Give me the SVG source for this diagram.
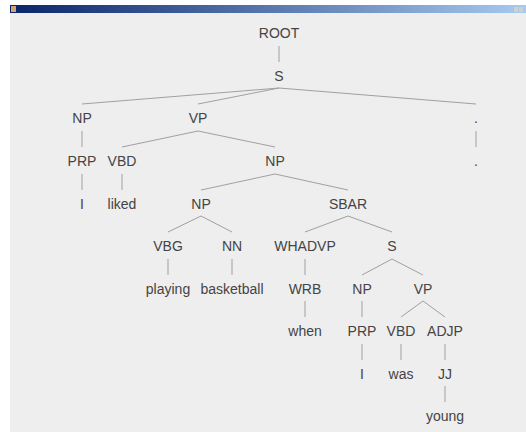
<svg xmlns="http://www.w3.org/2000/svg" width="526" height="432" viewBox="0 0 526 432">
<defs>
<linearGradient id="tb" x1="0" y1="0" x2="1" y2="0">
<stop offset="0" stop-color="#0A246A"/>
<stop offset="1" stop-color="#A6CAF0"/>
</linearGradient>
</defs>
<style>
text{font-family:"Liberation Sans",Arial,sans-serif;font-size:14px;fill:#444;text-anchor:middle}
.e line{stroke:#a0a0a0;stroke-width:1}
</style>
<rect x="0" y="0" width="526" height="432" fill="#ffffff"/>
<rect x="10" y="13" width="516" height="419" fill="#eeeeee"/>
<rect x="10" y="5" width="516" height="8" fill="url(#tb)"/>
<rect x="11" y="6" width="5" height="6" fill="#d8a070"/>
<rect x="514" y="7" width="4" height="5" fill="#d4d0c8"/>
<rect x="519" y="7" width="4" height="5" fill="#d4d0c8"/>
<g class="e" id="edges">
<line x1="279" y1="46" x2="279" y2="62"/>
<line x1="279" y1="88" x2="82" y2="104"/>
<line x1="279" y1="88" x2="198" y2="104"/>
<line x1="279" y1="88" x2="476" y2="104"/>
<line x1="82" y1="131" x2="82" y2="147"/>
<line x1="198" y1="131" x2="122" y2="147"/>
<line x1="198" y1="131" x2="275" y2="147"/>
<line x1="476" y1="131" x2="476" y2="147"/>
<line x1="82" y1="174" x2="82" y2="190"/>
<line x1="122" y1="174" x2="122" y2="190"/>
<line x1="275" y1="174" x2="201" y2="190"/>
<line x1="275" y1="174" x2="348" y2="190"/>
<line x1="201" y1="216" x2="168" y2="232"/>
<line x1="201" y1="216" x2="232" y2="232"/>
<line x1="348" y1="216" x2="305" y2="232"/>
<line x1="348" y1="216" x2="392" y2="232"/>
<line x1="168" y1="259" x2="168" y2="275"/>
<line x1="232" y1="259" x2="232" y2="275"/>
<line x1="305" y1="259" x2="305" y2="275"/>
<line x1="392" y1="259" x2="362" y2="275"/>
<line x1="392" y1="259" x2="423" y2="275"/>
<line x1="305" y1="301" x2="305" y2="317"/>
<line x1="362" y1="301" x2="362" y2="317"/>
<line x1="423" y1="301" x2="401" y2="317"/>
<line x1="423" y1="301" x2="445" y2="317"/>
<line x1="362" y1="344" x2="362" y2="360"/>
<line x1="401" y1="344" x2="401" y2="360"/>
<line x1="445" y1="344" x2="445" y2="360"/>
<line x1="445" y1="386" x2="445" y2="402"/>
</g>
<g id="n-root"><text x="279" y="38">ROOT</text></g>
<g id="n-s"><text x="279" y="80.5">S</text></g>
<g id="n-np1"><text x="82" y="123">NP</text></g>
<g id="n-vp1"><text x="198" y="123">VP</text></g>
<g id="n-dot1"><text x="476" y="123">.</text></g>
<g id="n-prp1"><text x="82" y="166">PRP</text></g>
<g id="n-vbd1"><text x="122" y="166">VBD</text></g>
<g id="n-np2"><text x="275" y="166">NP</text></g>
<g id="n-dot2"><text x="476" y="166">.</text></g>
<g id="n-i1"><text x="82" y="208.5">I</text></g>
<g id="n-liked"><text x="122" y="208.5">liked</text></g>
<g id="n-np3"><text x="201" y="208.5">NP</text></g>
<g id="n-sbar"><text x="348" y="208.5">SBAR</text></g>
<g id="n-vbg"><text x="168" y="251">VBG</text></g>
<g id="n-nn"><text x="232" y="251">NN</text></g>
<g id="n-whadvp"><text x="305" y="251">WHADVP</text></g>
<g id="n-s2"><text x="392" y="251">S</text></g>
<g id="n-playing"><text x="168" y="293.5">playing</text></g>
<g id="n-basketball"><text x="232" y="293.5">basketball</text></g>
<g id="n-wrb"><text x="305" y="293.5">WRB</text></g>
<g id="n-np4"><text x="362" y="293.5">NP</text></g>
<g id="n-vp2"><text x="423" y="293.5">VP</text></g>
<g id="n-when"><text x="305" y="336">when</text></g>
<g id="n-prp2"><text x="362" y="336">PRP</text></g>
<g id="n-vbd2"><text x="401" y="336">VBD</text></g>
<g id="n-adjp"><text x="445" y="336">ADJP</text></g>
<g id="n-i2"><text x="362" y="378.5">I</text></g>
<g id="n-was"><text x="401" y="378.5">was</text></g>
<g id="n-jj"><text x="445" y="378.5">JJ</text></g>
<g id="n-young"><text x="445" y="421">young</text></g>
</svg>
